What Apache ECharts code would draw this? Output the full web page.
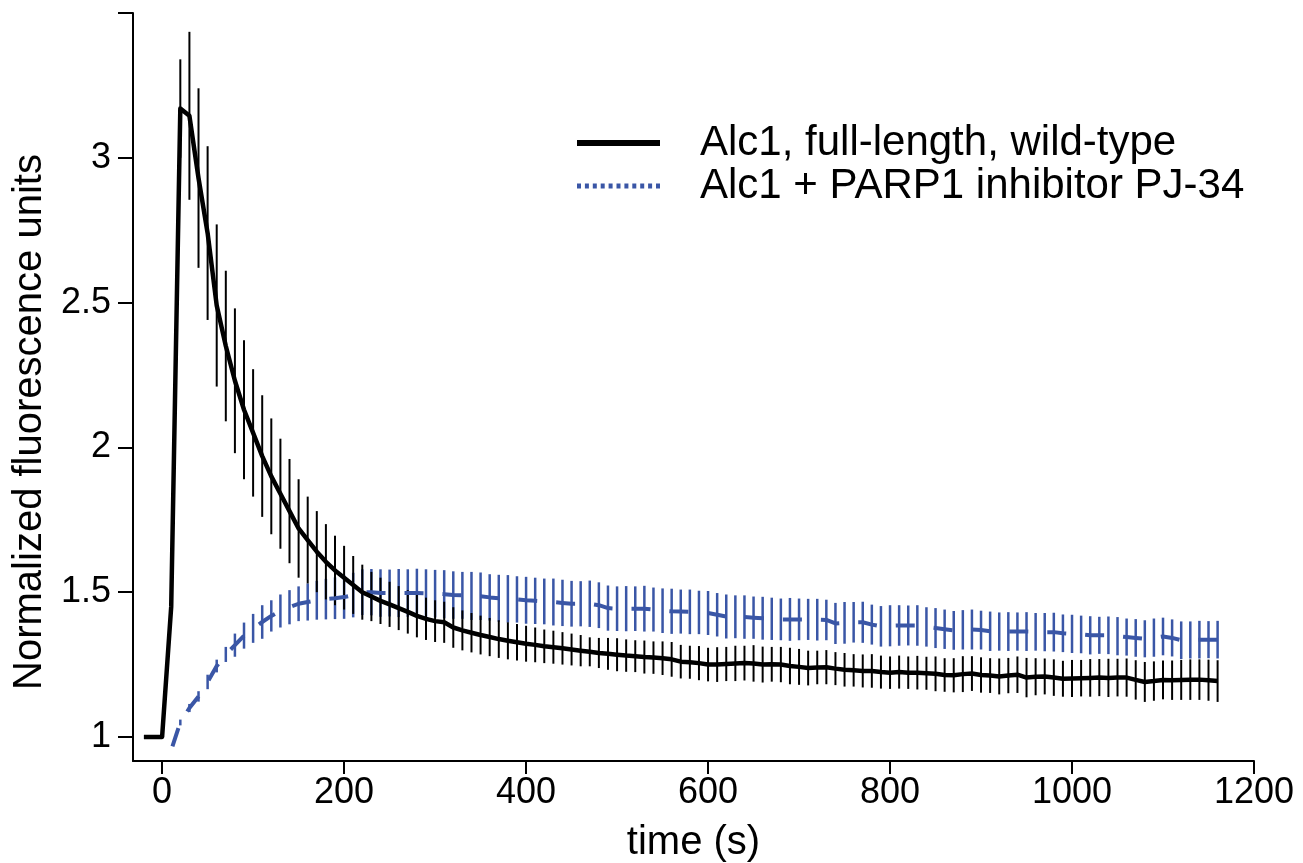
<!DOCTYPE html>
<html>
<head>
<meta charset="utf-8">
<title>Alc1 recruitment</title>
<script src="https://cdn.jsdelivr.net/npm/echarts@6/dist/echarts.min.js"></script>
<style>
html, body { margin: 0; padding: 0; background: #fff; }
#recruitment-chart { width: 1303px; height: 863px; }
</style>
</head>
<body>
<div id="recruitment-chart"></div>
<script>
var timePoints = [-20, -10, 0,
	10, 20, 30, 40, 50, 60, 70, 80, 90, 100,
	110, 120, 130, 140, 150, 160, 170, 180, 190, 200,
	210, 220, 230, 240, 250, 260, 270, 280, 290, 300,
	310, 320, 330, 340, 350, 360, 370, 380, 390, 400,
	410, 420, 430, 440, 450, 460, 470, 480, 490, 500,
	510, 520, 530, 540, 550, 560, 570, 580, 590, 600,
	610, 620, 630, 640, 650, 660, 670, 680, 690, 700,
	710, 720, 730, 740, 750, 760, 770, 780, 790, 800,
	810, 820, 830, 840, 850, 860, 870, 880, 890, 900,
	910, 920, 930, 940, 950, 960, 970, 980, 990, 1000,
	1010, 1020, 1030, 1040, 1050, 1060, 1070, 1080, 1090, 1100,
	1110, 1120, 1130, 1140, 1150, 1160];

var wildTypeMean = [1.00, 1.00, 1.00,
	1.45, 3.17, 3.145, 2.93, 2.74, 2.49, 2.35, 2.23, 2.13, 2.05,
	1.97, 1.90, 1.84, 1.78, 1.72, 1.68, 1.64, 1.605, 1.575, 1.55,
	1.525, 1.50, 1.485, 1.47, 1.458, 1.445, 1.432, 1.418, 1.408, 1.40,
	1.396, 1.378, 1.368, 1.36, 1.352, 1.345, 1.338, 1.332, 1.327, 1.322,
	1.318, 1.313, 1.31, 1.306, 1.302, 1.298, 1.294, 1.29, 1.287, 1.284,
	1.281, 1.279, 1.276, 1.274, 1.272, 1.268, 1.26, 1.258, 1.255, 1.25,
	1.25, 1.252, 1.254, 1.255, 1.254, 1.25, 1.251, 1.25, 1.245, 1.242,
	1.238, 1.24, 1.241, 1.236, 1.232, 1.23, 1.228, 1.228, 1.224, 1.222,
	1.224, 1.222, 1.222, 1.22, 1.218, 1.214, 1.213, 1.217, 1.219, 1.214,
	1.212, 1.209, 1.212, 1.215, 1.205, 1.208, 1.209, 1.205, 1.201, 1.202,
	1.203, 1.204, 1.205, 1.204, 1.205, 1.205, 1.197, 1.19, 1.193, 1.197,
	1.196, 1.197, 1.198, 1.198, 1.196, 1.193];

var wildTypeErr = [0, 0, 0,
	0, 0.17, 0.29, 0.31, 0.30, 0.28, 0.26, 0.25, 0.24, 0.22,
	0.21, 0.20, 0.19, 0.18, 0.17, 0.15, 0.14, 0.13, 0.12, 0.11,
	0.10, 0.095, 0.085, 0.08, 0.078, 0.076, 0.075, 0.074, 0.073, 0.072,
	0.071, 0.07, 0.069, 0.068, 0.067, 0.066, 0.065, 0.064, 0.063, 0.062,
	0.06, 0.058, 0.057, 0.056, 0.055, 0.054, 0.05, 0.052, 0.055, 0.057,
	0.056, 0.055, 0.057, 0.056, 0.058, 0.06, 0.058, 0.057, 0.059, 0.058,
	0.06, 0.059, 0.061, 0.06, 0.063, 0.062, 0.06, 0.061, 0.063, 0.062,
	0.06, 0.058, 0.059, 0.057, 0.058, 0.056, 0.057, 0.058, 0.057, 0.056,
	0.057, 0.056, 0.058, 0.057, 0.06, 0.058, 0.059, 0.062, 0.06, 0.061,
	0.06, 0.062, 0.061, 0.063, 0.068, 0.064, 0.062, 0.063, 0.062, 0.064,
	0.063, 0.065, 0.064, 0.066, 0.065, 0.066, 0.068, 0.069, 0.068, 0.067,
	0.068, 0.069, 0.07, 0.07, 0.071, 0.072];

var inhibitorMean = [1.00, 1.00, 1.00,
	0.955, 1.05, 1.10, 1.14, 1.19, 1.245, 1.285, 1.317, 1.35, 1.375,
	1.397, 1.418, 1.435, 1.448, 1.46, 1.466, 1.472, 1.476, 1.479, 1.483,
	1.49, 1.50, 1.50, 1.497, 1.497, 1.497, 1.497, 1.497, 1.496, 1.495,
	1.493, 1.49, 1.489, 1.487, 1.486, 1.482, 1.479, 1.477, 1.475, 1.472,
	1.47, 1.468, 1.466, 1.463, 1.46, 1.46, 1.46, 1.455, 1.445, 1.443,
	1.443, 1.443, 1.443, 1.44, 1.436, 1.434, 1.433, 1.432, 1.43, 1.428,
	1.422, 1.416, 1.415, 1.414, 1.412, 1.41, 1.408, 1.406, 1.406, 1.406,
	1.406, 1.405, 1.404, 1.392, 1.394, 1.396, 1.396, 1.388, 1.382, 1.384,
	1.385, 1.385, 1.385, 1.38, 1.376, 1.372, 1.368, 1.37, 1.371, 1.369,
	1.365, 1.364, 1.364, 1.364, 1.364, 1.363, 1.362, 1.362, 1.358, 1.356,
	1.354, 1.351, 1.351, 1.351, 1.348, 1.345, 1.342, 1.339, 1.343, 1.347,
	1.342, 1.334, 1.335, 1.336, 1.336, 1.336];

var inhibitorErr = [0, 0, 0,
	0, 0.01, 0.014, 0.018, 0.025, 0.022, 0.026, 0.04, 0.045, 0.05,
	0.058, 0.054, 0.057, 0.059, 0.06, 0.064, 0.067, 0.07, 0.072, 0.075,
	0.077, 0.079, 0.08, 0.082, 0.081, 0.083, 0.082, 0.084, 0.083, 0.082,
	0.083, 0.082, 0.081, 0.083, 0.082, 0.08, 0.081, 0.082, 0.08, 0.081,
	0.08, 0.079, 0.081, 0.08, 0.079, 0.078, 0.08, 0.079, 0.078, 0.077,
	0.078, 0.077, 0.079, 0.076, 0.077, 0.078, 0.076, 0.077, 0.075, 0.076,
	0.075, 0.076, 0.074, 0.075, 0.073, 0.074, 0.073, 0.072, 0.074, 0.072,
	0.071, 0.072, 0.07, 0.071, 0.072, 0.07, 0.071, 0.069, 0.07, 0.071,
	0.07, 0.069, 0.07, 0.068, 0.069, 0.068, 0.067, 0.068, 0.069, 0.067,
	0.068, 0.066, 0.067, 0.066, 0.067, 0.065, 0.066, 0.067, 0.065, 0.066,
	0.065, 0.066, 0.064, 0.065, 0.066, 0.064, 0.065, 0.064, 0.066, 0.065,
	0.064, 0.065, 0.064, 0.065, 0.064, 0.065];

var xTicks = [0, 200, 400, 600, 800, 1000, 1200];
var yTicks = [1, 1.5, 2, 2.5, 3, 3.5];
var yLabels = [1, 1.5, 2, 2.5, 3];

var seriesNames = ['Alc1, full-length, wild-type', 'Alc1 + PARP1 inhibitor PJ-34'];

var FONT = "'Liberation Sans', Arial, Helvetica, sans-serif";
var BLUE = '#3a56a6';

// legend swatches: a solid bar and a row of short dashes
var SOLID_ICON = 'path://M0,0h83v6h-83z';
var DOTTED_ICON = 'path://M0,0h4v5h-4z M7.9,0h4v5h-4z M15.8,0h4v5h-4z M23.7,0h4v5h-4z M31.6,0h4v5h-4z M39.5,0h4v5h-4z M47.4,0h4v5h-4z M55.3,0h4v5h-4z M63.2,0h4v5h-4z M71.1,0h4v5h-4z M79,0h4v5h-4z';

function pairs(means){
	var out = [];
	for (var i = 0; i < timePoints.length; i++) {
		out.push([timePoints[i], means[i]]);
	}
	return out;
}

// [time, low, high] for each point that has a bar
function errorRows(means, errs){
	var out = [];
	for (var i = 0; i < timePoints.length; i++) {
		if (errs[i] > 0) {
			out.push([timePoints[i], means[i] - errs[i], means[i] + errs[i]]);
		}
	}
	return out;
}

function errorBar(color, width){
	return function(params, api){
		var top = api.coord([api.value(0), api.value(2)]);
		var bottom = api.coord([api.value(0), api.value(1)]);
		return {
			type: 'line',
			shape: {x1: top[0], y1: top[1], x2: bottom[0], y2: bottom[1]},
			style: {stroke: color, lineWidth: width}
		};
	};
}

function plainNumber(v){
	return String(v);
}

function recruitmentChart(){
	var chart = echarts.init(document.getElementById('recruitment-chart'));

	var option = {
		animation: false,
		backgroundColor: '#fff',
		textStyle: {fontFamily: FONT},
		grid: {left: 133, right: 49, top: 13, bottom: 102, outerBoundsMode: 'none'},
		legend: {
			orient: 'vertical',
			left: 577,
			top: 122,
			padding: 0,
			itemWidth: 83,
			itemHeight: 14,
			itemGap: 1,
			textStyle: {fontSize: 42, color: '#000', lineHeight: 42, padding: [0, 0, 0, 35], fontFamily: FONT},
			data: [
				{name: seriesNames[0], icon: SOLID_ICON, itemStyle: {color: '#000'}},
				{name: seriesNames[1], icon: DOTTED_ICON, itemStyle: {color: BLUE}}
			]
		},
		xAxis: {
			type: 'value',
			min: -32,
			max: 1200,
			name: 'time (s)',
			nameLocation: 'middle',
			nameGap: 62,
			nameTextStyle: {fontSize: 40, color: '#000'},
			axisLine: {onZero: false, lineStyle: {color: '#000', width: 2}},
			axisTick: {length: 13, lineStyle: {color: '#000', width: 2}, customValues: xTicks},
			axisLabel: {fontSize: 36, color: '#000', margin: 14, customValues: xTicks, formatter: plainNumber},
			splitLine: {show: false}
		},
		yAxis: {
			type: 'value',
			min: 0.917,
			max: 3.5,
			name: 'Normalized fluorescence units',
			nameLocation: 'middle',
			nameGap: 82,
			nameTextStyle: {fontSize: 40, color: '#000', padding: [0, 70, 0, 0]},
			axisLine: {show: true, onZero: false, lineStyle: {color: '#000', width: 2}},
			axisTick: {show: true, length: 15, lineStyle: {color: '#000', width: 2}, customValues: yTicks},
			axisLabel: {fontSize: 36, color: '#000', margin: 22, customValues: yLabels, formatter: plainNumber},
			splitLine: {show: false}
		},
		series: [
			{
				type: 'custom',
				name: 'inhibitor-err',
				renderItem: errorBar(BLUE, 2.5),
				encode: {x: 0, y: [1, 2]},
				data: errorRows(inhibitorMean, inhibitorErr),
				z: 1
			},
			{
				type: 'custom',
				name: 'wild-type-err',
				renderItem: errorBar('#000', 2),
				encode: {x: 0, y: [1, 2]},
				data: errorRows(wildTypeMean, wildTypeErr),
				z: 2
			},
			{
				name: seriesNames[1],
				type: 'line',
				symbol: 'none',
				lineStyle: {color: BLUE, width: 4, type: [19, 19]},
				itemStyle: {color: BLUE},
				data: pairs(inhibitorMean),
				z: 3
			},
			{
				name: seriesNames[0],
				type: 'line',
				symbol: 'none',
				lineStyle: {color: '#000', width: 4.5, join: 'round'},
				itemStyle: {color: '#000'},
				data: pairs(wildTypeMean),
				z: 4
			}
		]
	};

	chart.setOption(option);
}

recruitmentChart();
</script>
</body>
</html>
